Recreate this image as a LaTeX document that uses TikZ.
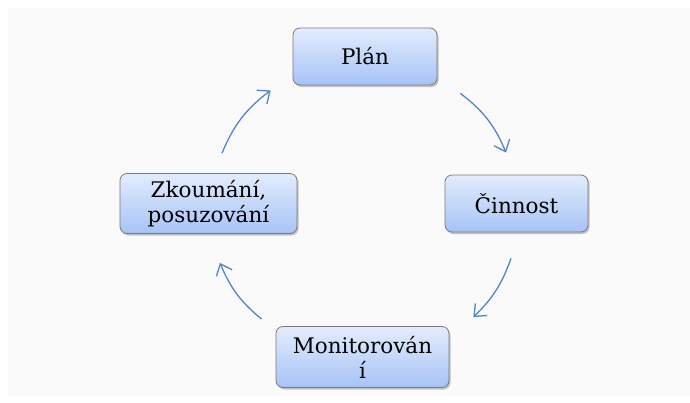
\documentclass[tikz,border=0pt]{standalone}
\usepackage{fontspec}
\setmainfont{DejaVu Serif}
\usepackage{xcolor}
\usetikzlibrary{arrows.meta,shadows}

\definecolor{boxtop}{HTML}{E3ECFD}
\definecolor{boxbottom}{HTML}{A6C3F6}
\definecolor{boxline}{HTML}{7A7A7A}
\definecolor{cycleblue}{HTML}{5585C0}
\definecolor{panel}{HTML}{FAFAFA}

\begin{document}
\begin{tikzpicture}[x=1pt, y=-1pt,
  phase/.style={rectangle,rounded corners=7pt,draw=boxline,line width=0.8pt,
    top color=boxtop,bottom color=boxbottom,align=center,inner sep=2pt,
    font=\fontsize{21.5}{25}\selectfont,
    drop shadow={opacity=0.45,shadow xshift=1.5pt,shadow yshift=-2pt}},
  cyc/.style={cycleblue,line width=1.3pt,
    -{Straight Barb[length=10pt,width=17pt,line width=1.3pt]}}]
  % Background
  \useasboundingbox (0,0) rectangle (690,402);
  \fill[white] (0,0) rectangle (690,402);
  \fill[panel] (8,8) rectangle (690,396);
  % Phases of the cycle
  \node[phase,minimum width=144pt,minimum height=57pt] (plan) at (365,56.5) {Plán};
  \node[phase,minimum width=143pt,minimum height=57pt] (cinnost) at (516.5,203.5) {Činnost};
  \node[phase,minimum width=173pt,minimum height=61pt] (monitor) at (362.5,357) {Monitorován\\í};
  \node[phase,minimum width=177pt,minimum height=60pt] (zkoumani) at (208.5,203.5) {Zkoumání,\\posuzování};
  % Arrows round the cycle (gaps kept by shifted anchors)
  \draw[cyc] ([shift={(23,8)}]plan.south east) to[bend left=15] ([shift={(-10.5,-22)}]cinnost.north);
  \draw[cyc] ([shift={(-5.5,26)}]cinnost.south) to[bend left=13] ([shift={(24,-9)}]monitor.north east);
  \draw[cyc] ([shift={(-14,-7)}]monitor.north west) to[bend left=14] ([shift={(11.5,29)}]zkoumani.south);
  \draw[cyc] ([shift={(13.5,-20)}]zkoumani.north) to[bend left=15] ([shift={(-22,5)}]plan.south west);
\end{tikzpicture}
\end{document}
